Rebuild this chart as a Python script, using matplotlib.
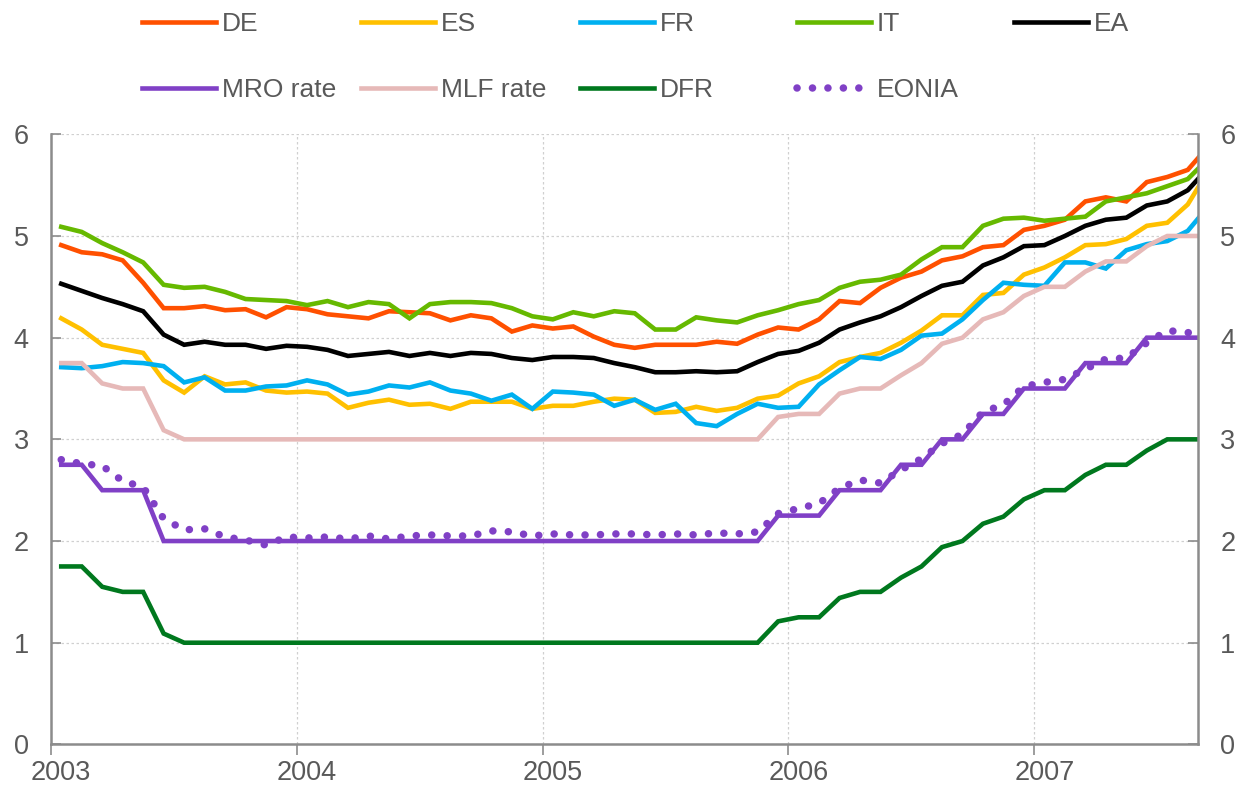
import matplotlib
matplotlib.use("Agg")
import matplotlib.pyplot as plt
import numpy as np
import pandas as pd

plt.rcParams["font.family"] = ["Liberation Sans", "DejaVu Sans"]

# monthly observations, Jan 2003 - Sep 2007
months = pd.period_range("2003-01", "2007-09", freq="M")

de = [4.91, 4.84, 4.82, 4.76, 4.54, 4.29, 4.29, 4.31, 4.27, 4.28, 4.20, 4.30,
      4.28, 4.23, 4.21, 4.19, 4.26, 4.25, 4.24, 4.17, 4.22, 4.19, 4.06, 4.12,
      4.09, 4.11, 4.01, 3.93, 3.90, 3.93, 3.93, 3.93, 3.96, 3.94, 4.03, 4.10,
      4.08, 4.18, 4.36, 4.34, 4.49, 4.59, 4.65, 4.76, 4.80, 4.89, 4.91, 5.06,
      5.10, 5.16, 5.34, 5.38, 5.34, 5.53, 5.58, 5.65, 5.88]
es = [4.19, 4.08, 3.93, 3.89, 3.85, 3.58, 3.46, 3.62, 3.54, 3.56, 3.48, 3.46,
      3.47, 3.45, 3.31, 3.36, 3.39, 3.34, 3.35, 3.30, 3.37, 3.37, 3.37, 3.30,
      3.33, 3.33, 3.37, 3.40, 3.39, 3.26, 3.27, 3.32, 3.28, 3.31, 3.40, 3.43,
      3.55, 3.62, 3.76, 3.81, 3.85, 3.95, 4.07, 4.22, 4.22, 4.42, 4.44, 4.62,
      4.69, 4.79, 4.91, 4.92, 4.97, 5.10, 5.13, 5.31, 5.64]
fr = [3.71, 3.70, 3.72, 3.76, 3.75, 3.72, 3.56, 3.61, 3.48, 3.48, 3.52, 3.53,
      3.58, 3.54, 3.44, 3.47, 3.53, 3.51, 3.56, 3.48, 3.45, 3.38, 3.44, 3.30,
      3.47, 3.46, 3.44, 3.33, 3.39, 3.29, 3.35, 3.16, 3.13, 3.25, 3.35, 3.31,
      3.32, 3.54, 3.68, 3.81, 3.79, 3.88, 4.02, 4.04, 4.18, 4.37, 4.54, 4.52,
      4.51, 4.74, 4.74, 4.68, 4.86, 4.92, 4.95, 5.05, 5.29]
it = [5.09, 5.04, 4.93, 4.84, 4.74, 4.52, 4.49, 4.50, 4.45, 4.38, 4.37, 4.36,
      4.32, 4.36, 4.30, 4.35, 4.33, 4.19, 4.33, 4.35, 4.35, 4.34, 4.29, 4.21,
      4.18, 4.25, 4.21, 4.26, 4.24, 4.08, 4.08, 4.20, 4.17, 4.15, 4.22, 4.27,
      4.33, 4.37, 4.49, 4.55, 4.57, 4.62, 4.77, 4.89, 4.89, 5.10, 5.17, 5.18,
      5.15, 5.17, 5.19, 5.34, 5.38, 5.42, 5.49, 5.56, 5.76]
ea = [4.53, 4.46, 4.39, 4.33, 4.26, 4.03, 3.93, 3.96, 3.93, 3.93, 3.89, 3.92,
      3.91, 3.88, 3.82, 3.84, 3.86, 3.82, 3.85, 3.82, 3.85, 3.84, 3.80, 3.78,
      3.81, 3.81, 3.80, 3.75, 3.71, 3.66, 3.66, 3.67, 3.66, 3.67, 3.76, 3.84,
      3.87, 3.95, 4.08, 4.15, 4.21, 4.30, 4.41, 4.51, 4.55, 4.71, 4.79, 4.90,
      4.91, 5.00, 5.10, 5.16, 5.18, 5.30, 5.34, 5.45, 5.67]
mro = [2.75, 2.75, 2.50, 2.50, 2.50, 2.00, 2.00, 2.00, 2.00, 2.00, 2.00, 2.00,
       2.00, 2.00, 2.00, 2.00, 2.00, 2.00, 2.00, 2.00, 2.00, 2.00, 2.00, 2.00,
       2.00, 2.00, 2.00, 2.00, 2.00, 2.00, 2.00, 2.00, 2.00, 2.00, 2.00, 2.25,
       2.25, 2.25, 2.50, 2.50, 2.50, 2.75, 2.75, 3.00, 3.00, 3.25, 3.25, 3.50,
       3.50, 3.50, 3.75, 3.75, 3.75, 4.00, 4.00, 4.00, 4.00]
mlf = [3.75, 3.75, 3.55, 3.50, 3.50, 3.09, 3.00, 3.00, 3.00, 3.00, 3.00, 3.00,
       3.00, 3.00, 3.00, 3.00, 3.00, 3.00, 3.00, 3.00, 3.00, 3.00, 3.00, 3.00,
       3.00, 3.00, 3.00, 3.00, 3.00, 3.00, 3.00, 3.00, 3.00, 3.00, 3.00, 3.22,
       3.25, 3.25, 3.45, 3.50, 3.50, 3.63, 3.75, 3.94, 4.00, 4.18, 4.25, 4.41,
       4.50, 4.50, 4.65, 4.75, 4.75, 4.90, 5.00, 5.00, 5.00]
dfr = [1.75, 1.75, 1.55, 1.50, 1.50, 1.09, 1.00, 1.00, 1.00, 1.00, 1.00, 1.00,
       1.00, 1.00, 1.00, 1.00, 1.00, 1.00, 1.00, 1.00, 1.00, 1.00, 1.00, 1.00,
       1.00, 1.00, 1.00, 1.00, 1.00, 1.00, 1.00, 1.00, 1.00, 1.00, 1.00, 1.21,
       1.25, 1.25, 1.44, 1.50, 1.50, 1.64, 1.75, 1.94, 2.00, 2.17, 2.24, 2.41,
       2.50, 2.50, 2.65, 2.75, 2.75, 2.89, 3.00, 3.00, 3.00]
eonia = [2.80, 2.76, 2.74, 2.59, 2.53, 2.22, 2.11, 2.12, 2.04, 2.01, 1.96, 2.04,
         2.03, 2.04, 2.02, 2.05, 2.02, 2.05, 2.06, 2.05, 2.05, 2.10, 2.09, 2.05,
         2.07, 2.06, 2.06, 2.07, 2.07, 2.06, 2.07, 2.06, 2.08, 2.07, 2.09, 2.27,
         2.32, 2.37, 2.52, 2.60, 2.57, 2.70, 2.81, 2.96, 3.05, 3.27, 3.34, 3.52,
         3.56, 3.59, 3.69, 3.79, 3.80, 3.95, 4.07, 4.05, 4.03]

years = ["2003", "2004", "2005", "2006", "2007"]

TEXT = "#595959"
AXIS = "#8C8C8C"

# x position: months since Jan 2003, plotted mid-month
x = np.arange(len(months)) + 0.5

fig = plt.figure(figsize=(12.37, 7.86), dpi=100)
ax = fig.add_axes([51 / 1237, 1 - 744.4 / 786, (1198 - 51) / 1237, (744.4 - 134.3) / 786])

lw = 3.3
series = [
    ("DE", de, "#FF5000"),
    ("ES", es, "#FFC000"),
    ("FR", fr, "#00B0F0"),
    ("IT", it, "#66B900"),
    ("EA", ea, "#000000"),
    ("MRO rate", mro, "#8040C6"),
    ("MLF rate", mlf, "#E6B9B8"),
    ("DFR", dfr, "#00781E"),
]
handles = {}
for name, vals, col in series:
    (h,) = ax.plot(x, vals, color=col, lw=lw, label=name, solid_joinstyle="miter")
    handles[name] = h
(h,) = ax.plot(x, eonia, color="#8040C6", lw=5.4, linestyle=(0, (0.01, 2.05)),
               dash_capstyle="round", label="EONIA")
handles["EONIA"] = h

ax.set_xlim(0, len(months) - 1)
ax.set_ylim(0, 6)

# year boundaries for ticks/grid, labels centred on January
ax.set_xticks([12 * i for i in range(len(years))])
ax.set_xticklabels([])
ax.set_xticks([12 * i + 0.5 for i in range(len(years))], minor=True)
ax.set_xticklabels(years, minor=True)
ax.tick_params(axis="x", which="major", direction="out", length=8, width=1.2, color=AXIS)
ax.tick_params(axis="x", which="minor", length=0, pad=11, labelsize=19.5, labelcolor=TEXT)

ax.set_yticks(range(0, 7))
ax.tick_params(axis="y", which="both", direction="in", length=7, width=1.2, color=AXIS,
               labelsize=19.5, labelcolor=TEXT, pad=16, right=True, labelright=True)

ax.grid(True, which="major", color="#D0D0D0", linestyle=(0, (2, 2)), linewidth=0.9)
ax.set_axisbelow(True)

for side in ["left", "right", "bottom"]:
    ax.spines[side].set_color(AXIS)
    ax.spines[side].set_linewidth(1.8)
ax.spines["top"].set_visible(False)

# legend laid out in fixed-width columns, two rows
columns = [["DE", "MRO rate"], ["ES", "MLF rate"], ["FR", "DFR"], ["IT", "EONIA"], ["EA"]]
col_left = [142, 361, 580, 797, 1014]
for names, px in zip(columns, col_left):
    fig.legend(
        handles=[handles[n] for n in names],
        labels=names,
        loc="upper left",
        bbox_to_anchor=(px / 1237, 1 - 12 / 786),
        frameon=False,
        fontsize=19,
        labelcolor=TEXT,
        handlelength=2.8,
        handletextpad=0.22,
        labelspacing=1.6,
        borderpad=0,
        borderaxespad=0,
    )

fig.savefig("out.png", dpi=100)
